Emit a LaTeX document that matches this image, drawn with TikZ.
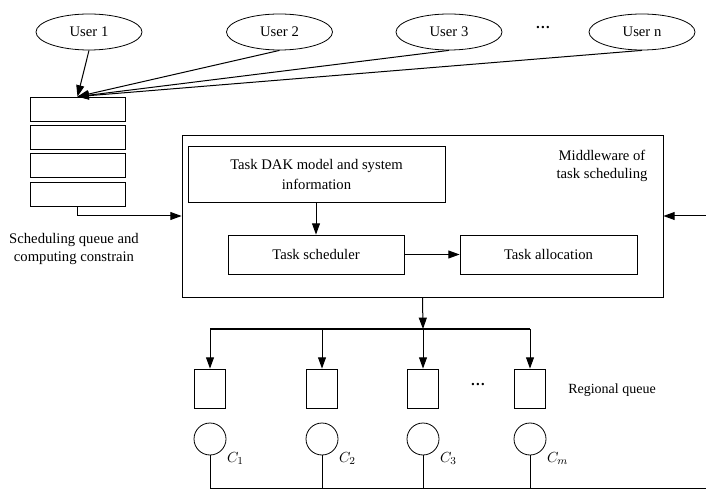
\documentclass[tikz,border=0pt]{standalone}
\usepackage{fontspec}
\setmainfont{Liberation Serif}
\usetikzlibrary{arrows.meta,shapes.geometric}
\begin{document}
\begin{tikzpicture}[x=0.75pt,y=-0.75pt,
  font=\fontsize{11}{13.5}\selectfont,
  box/.style={draw, line width=0.6pt, inner sep=1pt, align=center},
  user/.style={draw, ellipse, line width=0.6pt, minimum width=79.5pt, minimum height=27pt, inner sep=0pt},
  qbox/.style={box, minimum width=71.25pt, minimum height=18pt},
  rbox/.style={box, minimum width=23.25pt, minimum height=29.25pt},
  proc/.style={draw, circle, line width=0.6pt, minimum size=24pt, inner sep=0pt},
  arr/.style={-{Triangle[length=8.5pt,width=6pt]}, line width=0.75pt},
  ln/.style={line width=0.75pt},
  lab/.style={inner sep=0pt, align=center}]
\useasboundingbox (0,0) rectangle (706,491);

% users
\node[user] (u1) at (89,32) {User 1};
\node[user] (u2) at (279.5,32) {User 2};
\node[user] (u3) at (449,32) {User 3};
\node[lab] (udots) at (543,28) {\textbf{…}};
\node[user] (un) at (642,32) {User n};

% scheduling queue
\node[qbox] (q1) at (77.5,109) {};
\node[qbox] (q2) at (77.5,137.5) {};
\node[qbox] (q3) at (77.5,165.5) {};
\node[qbox] (q4) at (77.5,194) {};
\node[lab] (qlab) at (74,248.5) {Scheduling queue and\\computing constrain};

% middleware
\node[box, minimum width=360.75pt, minimum height=121.5pt] (mid) at (422.5,216) {};
\node[lab] (midlab) at (602,166) {Middleware of\\task scheduling};
\node[box, minimum width=192.75pt, minimum height=42pt, font=\fontsize{11}{15}\selectfont] (dak) at (316.5,174) {Task DAK model and system\\information};
\node[box, minimum width=132pt, minimum height=29.25pt] (sched) at (316,254.5) {Task scheduler};
\node[box, minimum width=132.75pt, minimum height=29.25pt] (alloc) at (548.5,254.5) {Task allocation};
\coordinate (rin) at (706,216);

% regional queues
\node[rbox] (r1) at (210,388.5) {};
\node[rbox] (r2) at (322,388.5) {};
\node[rbox] (r3) at (423,388.5) {};
\node[rbox] (r4) at (530,388.5) {};
\node[lab] (rdots) at (478,385) {\textbf{…}};
\node[lab, anchor=west, font=\fontsize{10.5}{12}\selectfont] (rlab) at (568,390) {Regional queue};

% computing nodes
\node[proc, label={[label distance=-1pt]-35:$C_1$}] (c1) at (210,439) {};
\node[proc, label={[label distance=-1pt]-35:$C_2$}] (c2) at (322,439) {};
\node[proc, label={[label distance=-1pt]-35:$C_3$}] (c3) at (423,439) {};
\node[proc, label={[label distance=-1pt]-35:$C_m$}] (c4) at (530,439) {};

\coordinate (bus) at (423,329);
\coordinate (busl) at (210,329);
\coordinate (busr) at (530,329);
\coordinate (botl) at (210,488);
\coordinate (botr) at (706,488);

% connectors
\draw[arr] (u1.south) -- (q1.north);
\draw[arr] (u2.south) -- (q1.north);
\draw[arr] (u3.south) -- (q1.north);
\draw[arr] (un.south) -- (q1.north);
\draw[arr] (q4.south) |- (mid.west);
\draw[arr] (dak.south -| sched.north) -- (sched.north);
\draw[arr] (sched.east) -- (alloc.west);
\draw[arr] (rin) -- (mid.east);
\draw[arr] (mid.south) -- (bus);
\draw[ln] (busl) -- (busr);
\draw[arr] (busl) -- (r1.north);
\draw[arr] (r2.north |- bus) -- (r2.north);
\draw[arr] (r3.north |- bus) -- (r3.north);
\draw[arr] (busr) -- (r4.north);
\draw[ln] (c1.south) -- (botl);
\draw[ln] (c2.south) -- (c2.south |- botl);
\draw[ln] (c3.south) -- (c3.south |- botl);
\draw[ln] (c4.south) -- (c4.south |- botl);
\draw[ln] (botl) -- (botr);
\end{tikzpicture}
\end{document}
